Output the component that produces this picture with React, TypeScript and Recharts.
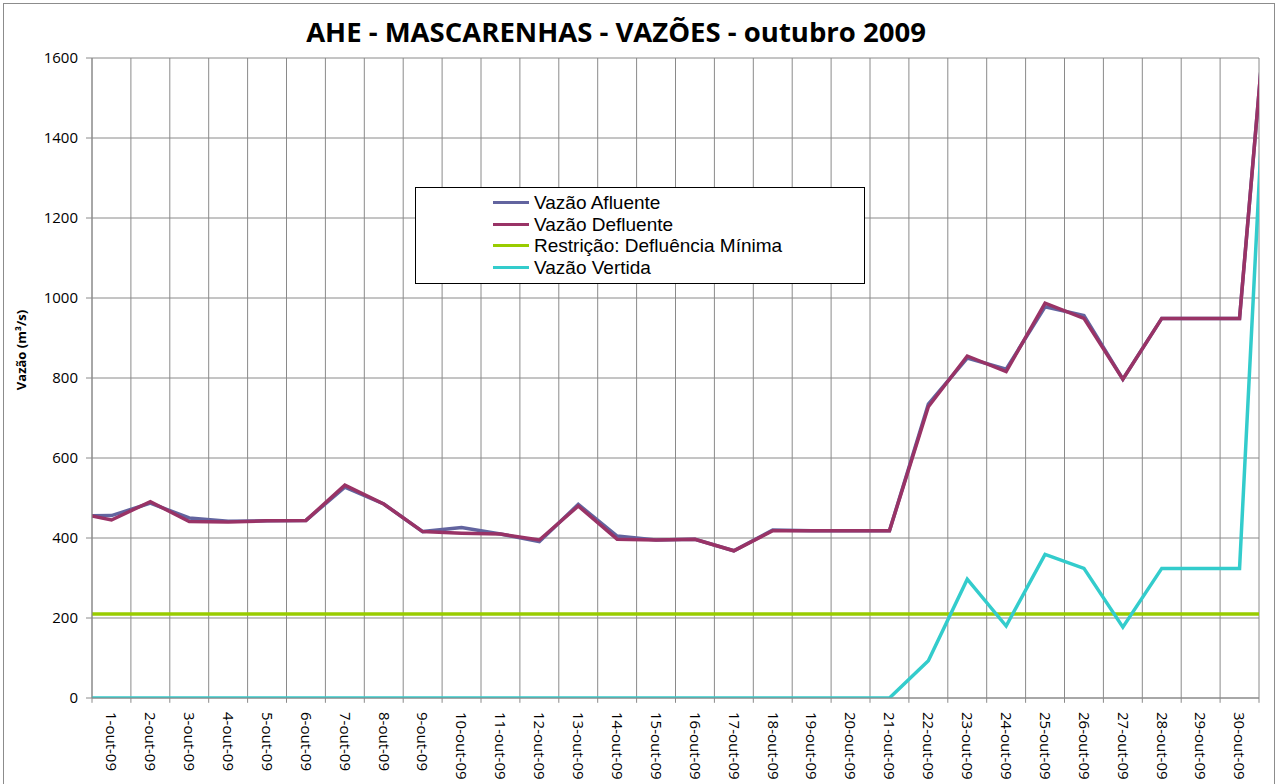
import React from 'react'
import {
  LineChart,
  Line,
  XAxis,
  YAxis,
  CartesianGrid,
  ReferenceLine,
  Legend
} from 'recharts'

// day 0 = 30-set, day 31 = 31-out (outside the visible axis range, lines get clipped)
const days = [0, 1, 2, 3, 4, 5, 6, 7, 8, 9, 10, 11, 12, 13, 14, 15, 16, 17, 18, 19, 20, 21, 22, 23, 24, 25, 26, 27, 28, 29, 30, 31]

const vazaoAfluente = [455, 456, 487, 450, 442, 443, 444, 527, 485, 416, 426, 410, 391, 484, 405, 395, 397, 368, 420, 418, 418, 418, 735, 850, 822, 978, 956, 797, 949, 949, 949, 2080]
const vazaoDefluente = [465, 445, 491, 441, 440, 443, 444, 532, 485, 416, 412, 410, 395, 480, 397, 395, 397, 368, 418, 418, 418, 418, 728, 855, 816, 987, 949, 797, 949, 949, 949, 2080]
const defluenciaMinima = [210, 210, 210, 210, 210, 210, 210, 210, 210, 210, 210, 210, 210, 210, 210, 210, 210, 210, 210, 210, 210, 210, 210, 210, 210, 210, 210, 210, 210, 210, 210, 210]
const vazaoVertida = [0, 0, 0, 0, 0, 0, 0, 0, 0, 0, 0, 0, 0, 0, 0, 0, 0, 0, 0, 0, 0, 0, 93, 297, 180, 359, 324, 177, 324, 324, 324, 2240]

const seriesNames = ['Vazão Afluente', 'Vazão Defluente', 'Restrição: Defluência Mínima', 'Vazão Vertida']

const xTicks = [1, 2, 3, 4, 5, 6, 7, 8, 9, 10, 11, 12, 13, 14, 15, 16, 17, 18, 19, 20, 21, 22, 23, 24, 25, 26, 27, 28, 29, 30]
const categoryBounds = [0.5, 1.5, 2.5, 3.5, 4.5, 5.5, 6.5, 7.5, 8.5, 9.5, 10.5, 11.5, 12.5, 13.5, 14.5, 15.5, 16.5, 17.5, 18.5, 19.5, 20.5, 21.5, 22.5, 23.5, 24.5, 25.5, 26.5, 27.5, 28.5, 29.5, 30.5]
const yTicks = [0, 200, 400, 600, 800, 1000, 1200, 1400, 1600]

const data = days.map((d, i) => ({
  day: d,
  afluente: vazaoAfluente[i],
  defluente: vazaoDefluente[i],
  minima: defluenciaMinima[i],
  vertida: vazaoVertida[i]
}))

const FONT = '"Open Sans", sans-serif'
const LEGEND_FONT = '"Liberation Sans", Arial, sans-serif'
const GRID = '#8a8a8a'

const XTick = ({ x, y, payload }: any) => (
  <g transform={`translate(${x},${y})`}>
    <text
      transform="rotate(90)"
      x={0}
      y={0}
      dy="0.35em"
      textAnchor="start"
      fontSize={15}
      fontFamily={FONT}
      fill="#000"
    >
      {`${payload.value}-out-09`}
    </text>
  </g>
)

const renderLegend = ({ payload }: any) => {
  const items = [...(payload || [])].sort(
    (a: any, b: any) => seriesNames.indexOf(a.value) - seriesNames.indexOf(b.value)
  )
  return (
    <div
      style={{
        width: 450,
        height: 97,
        boxSizing: 'border-box',
        border: '1.5px solid #000',
        background: '#fff',
        paddingTop: 4
      }}
    >
      {items.map((entry: any) => (
        <div
          key={entry.value}
          style={{ display: 'flex', alignItems: 'center', height: 21.5, paddingLeft: 77 }}
        >
          <span style={{ width: 36, height: 3, background: entry.color, marginRight: 5 }} />
          <span
            style={{
              fontSize: 19,
              lineHeight: '21.5px',
              fontFamily: LEGEND_FONT,
              color: '#000',
              whiteSpace: 'nowrap'
            }}
          >
            {entry.value}
          </span>
        </div>
      ))}
    </div>
  )
}

export default function App() {
  return (
    <div
      style={{
        position: 'absolute',
        left: 0,
        top: 0,
        width: 1275,
        height: 784,
        overflow: 'hidden',
        background: '#fff'
      }}
    >
      <div
        style={{
          position: 'absolute',
          left: 3,
          top: 3,
          width: 1272,
          height: 900,
          boxSizing: 'border-box',
          border: '1.5px solid #8c8c8c'
        }}
      />
      <div
        style={{
          position: 'absolute',
          left: 0,
          top: 13,
          width: 1232,
          textAlign: 'center',
          fontFamily: FONT,
          fontWeight: 700,
          fontSize: 27.5,
          lineHeight: '38px',
          color: '#000'
        }}
      >
        AHE - MASCARENHAS - VAZÕES - outubro 2009
      </div>
      <LineChart
        width={1275}
        height={784}
        data={data}
        margin={{ top: 58, right: 16, left: 0, bottom: 0 }}
        style={{ position: 'absolute', left: 0, top: 0 }}
      >
        <CartesianGrid vertical={false} stroke={GRID} strokeWidth={1} />
        {categoryBounds.map((b) => (
          <ReferenceLine
            key={b}
            ifOverflow="visible"
            stroke={GRID}
            strokeWidth={1}
            segment={[
              { x: b, y: -12 },
              { x: b, y: 1600 }
            ]}
          />
        ))}
        <XAxis
          dataKey="day"
          type="number"
          domain={[0.5, 30.5]}
          allowDataOverflow
          ticks={xTicks}
          interval={0}
          height={86}
          tickSize={0}
          tickMargin={14}
          tickLine={false}
          axisLine={{ stroke: GRID }}
          tick={<XTick />}
        />
        <YAxis
          type="number"
          domain={[0, 1600]}
          allowDataOverflow
          ticks={yTicks}
          width={92}
          tickSize={6}
          tickMargin={8}
          tickLine={{ stroke: GRID }}
          axisLine={{ stroke: GRID }}
          tick={{ fontSize: 15, fontFamily: FONT, fill: '#000' }}
          label={{
            content: ({ viewBox }: any) => (
              <text
                transform={`translate(${viewBox.x + 21},${viewBox.y + viewBox.height / 2 - 28}) rotate(-90)`}
                textAnchor="middle"
                dominantBaseline="central"
                fontSize={13}
                fontWeight={700}
                fontFamily={FONT}
                fill="#000"
              >
                Vazão (m³/s)
              </text>
            )
          }}
        />
        <Legend
          layout="vertical"
          align="center"
          verticalAlign="middle"
          content={renderLegend}
          wrapperStyle={{ left: 415, top: 187, width: 450, height: 97 }}
        />
        <Line
          name={seriesNames[0]}
          dataKey="afluente"
          stroke="#62649f"
          strokeWidth={3.5}
          dot={false}
          isAnimationActive={false}
        />
        <Line
          name={seriesNames[1]}
          dataKey="defluente"
          stroke="#993366"
          strokeWidth={3.5}
          dot={false}
          isAnimationActive={false}
        />
        <Line
          name={seriesNames[2]}
          dataKey="minima"
          stroke="#99cc00"
          strokeWidth={3.5}
          dot={false}
          isAnimationActive={false}
        />
        <Line
          name={seriesNames[3]}
          dataKey="vertida"
          stroke="#33cccc"
          strokeWidth={3.5}
          dot={false}
          isAnimationActive={false}
        />
      </LineChart>
    </div>
  )
}
